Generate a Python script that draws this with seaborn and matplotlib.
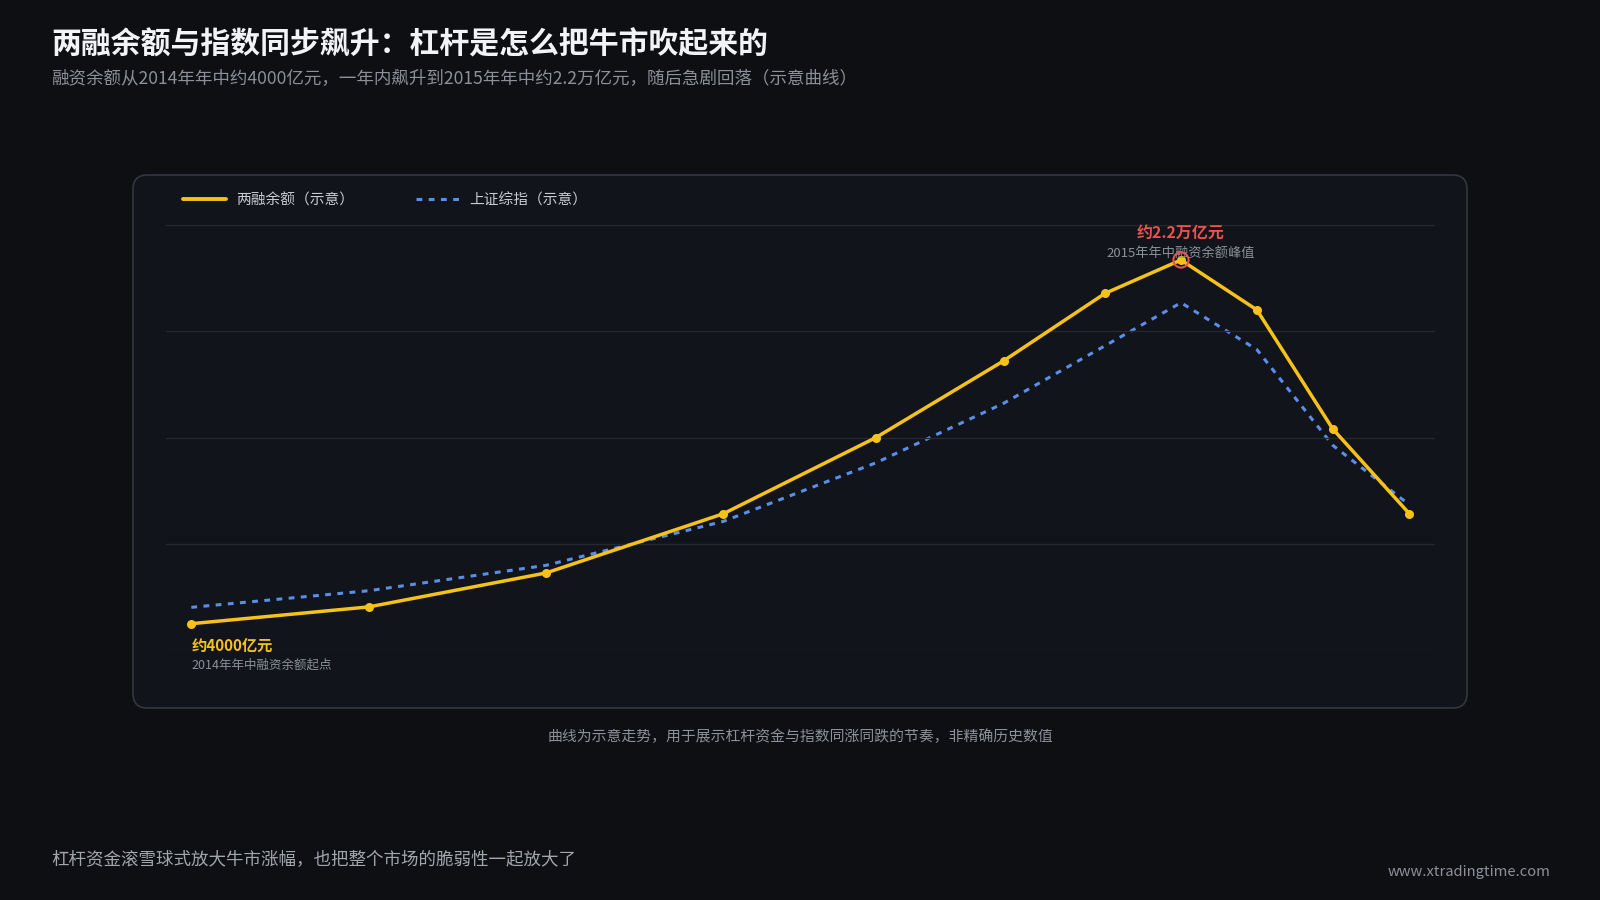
import numpy as np
import pandas as pd
import matplotlib.pyplot as plt
import seaborn as sns
from matplotlib.patches import FancyBboxPatch
from matplotlib.lines import Line2D

# 数据（示意曲线，从图上读取）
meses = [0, 2.15, 4.3, 6.45, 8.3, 9.85, 11.08, 12, 12.92, 13.84, 14.77]   # 距2014年年中的月数
rongzi = [4000, 4830, 6510, 9440, 13210, 17010, 20350, 22000, 19530, 13640, 9440]  # 两融余额（亿元）
zhishu = [2050, 2220, 2480, 2930, 3530, 4140, 4730, 5170, 4690, 3710, 3100]        # 上证综指

nome_rongzi = "两融余额（示意）"
nome_zhishu = "上证综指（示意）"

df = pd.DataFrame({"月份": meses, "两融余额": rongzi, "上证综指": zhishu})

# 颜色
bg = "#0e0f13"
painel = "#11141a"
amarelo = "#f5c21b"
azul = "#5b8ee8"
vermelho = "#e8524f"
cinza = "#8c9098"

sns.set_style("dark", {"axes.facecolor": "none", "figure.facecolor": bg})
plt.rcParams["font.family"] = ["Noto Sans CJK SC", "DejaVu Sans"]

fig = plt.figure(figsize=(16, 9), dpi=100)
fig.patch.set_facecolor(bg)

# 圆角面板（放在坐标轴下面）
caixa = FancyBboxPatch((133 / 1600, 1 - 708 / 900), (1467 - 133) / 1600, (708 - 175) / 900,
                       boxstyle="round,pad=0,rounding_size=0.009",
                       transform=fig.transFigure, facecolor=painel,
                       edgecolor="#34373e", linewidth=1.2, zorder=-5,
                       mutation_aspect=16 / 9)
fig.patches.append(caixa)

ax = fig.add_axes([166 / 1600, 1 - 650 / 900, (1435 - 166) / 1600, (650 - 225) / 900])
ax.set_facecolor("none")
ax2 = ax.twinx()
ax2.set_facecolor("none")

tracejado = (0, (1.9, 2.1))
sns.lineplot(data=df, x="月份", y="上证综指", ax=ax2, color=azul, lw=2.2,
             linestyle=tracejado, zorder=2)
sns.lineplot(data=df, x="月份", y="两融余额", ax=ax, color=amarelo, lw=2.5,
             marker="o", markersize=6.5, markeredgewidth=0, zorder=3)

ax.set_xlim(-0.307, 15.08)
ax.set_ylim(2698, 23732)
ax2.set_ylim(1613, 5966)
ax.set_yticks(np.linspace(2698, 23732, 5))
ax.grid(axis="y", color="#25282f", lw=1)
ax.grid(axis="x", visible=False)
ax2.grid(False)
for a in (ax, ax2):
    a.set_xlabel("")
    a.set_ylabel("")
    a.tick_params(length=0, labelleft=False, labelright=False, labelbottom=False)
    for s in a.spines.values():
        s.set_visible(False)
for l in ax.lines + ax2.lines:
    l.set_clip_on(False)
ax.set_zorder(ax2.get_zorder() + 1)

# 峰值标注
i_pico = int(np.argmax(rongzi))
ax.scatter([meses[i_pico]], [rongzi[i_pico]], s=120, facecolor="none",
           edgecolor=vermelho, lw=1.5, zorder=5, clip_on=False)
ax.annotate("约2.2万亿元", (meses[i_pico], rongzi[i_pico]), xytext=(0, 19.5),
            textcoords="offset points", ha="center", va="center",
            color=vermelho, fontsize=11.5, fontweight="bold")
ax.annotate("2015年年中融资余额峰值", (meses[i_pico], rongzi[i_pico]), xytext=(0, 5),
            textcoords="offset points", ha="center", va="center",
            color=cinza, fontsize=9.5, zorder=4)

# 起点标注
ax.annotate("约4000亿元", (meses[0], rongzi[0]), xytext=(0, -16),
            textcoords="offset points", ha="left", va="center",
            color=amarelo, fontsize=11, fontweight="bold")
ax.annotate("2014年年中融资余额起点", (meses[0], rongzi[0]), xytext=(0, -30),
            textcoords="offset points", ha="left", va="center",
            color=cinza, fontsize=9)

# 图例
alcas = [Line2D([], [], color=amarelo, lw=2.8),
         Line2D([], [], color=azul, lw=2.2, linestyle=tracejado)]
fig.legend(alcas, [nome_rongzi, nome_zhishu], loc="center left",
           bbox_to_anchor=(183 / 1600, 1 - 200 / 900), ncol=2, frameon=False,
           handlelength=2.9, handletextpad=0.7, columnspacing=4.2,
           borderpad=0, borderaxespad=0, labelcolor="#c9ccd2", fontsize=10.6)

# 标题与文字
fig.text(51 / 1600, 1 - 44 / 900, "两融余额与指数同步飙升：杠杆是怎么把牛市吹起来的",
         color="#f2f3f5", fontsize=21.5, fontweight="bold", va="center", ha="left")
fig.text(51 / 1600, 1 - 79 / 900,
         "融资余额从2014年年中约4000亿元，一年内飙升到2015年年中约2.2万亿元，随后急剧回落（示意曲线）",
         color=cinza, fontsize=12.6, va="center", ha="left")
fig.text(0.5, 1 - 737 / 900, "曲线为示意走势，用于展示杠杆资金与指数同涨同跌的节奏，非精确历史数值",
         color=cinza, fontsize=10.7, va="center", ha="center")
fig.text(51 / 1600, 1 - 860 / 900, "杠杆资金滚雪球式放大牛市涨幅，也把整个市场的脆弱性一起放大了",
         color="#a2a6ad", fontsize=12.6, va="center", ha="left")
fig.text(1550 / 1600, 1 - 872 / 900, "www.xtradingtime.com",
         color=cinza, fontsize=10.6, va="center", ha="right")

fig.savefig("out.png", dpi=100, facecolor=bg)
